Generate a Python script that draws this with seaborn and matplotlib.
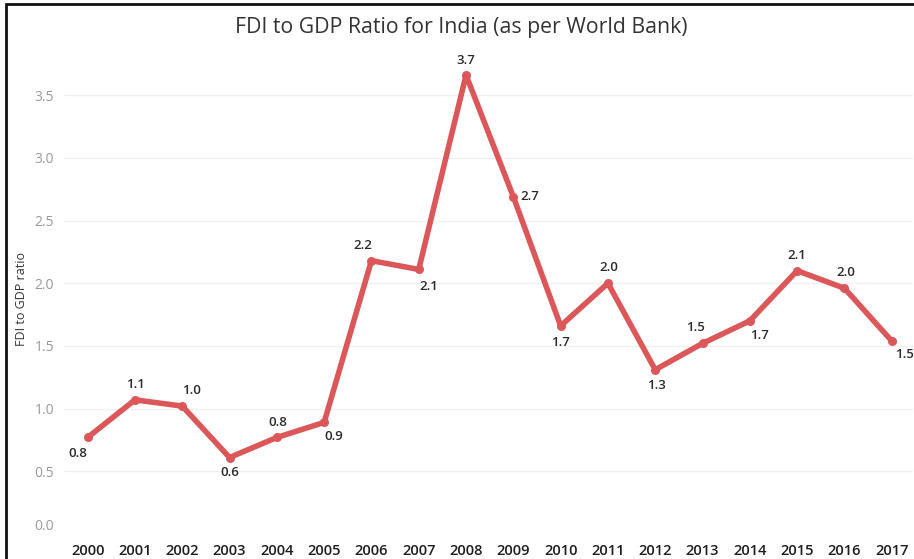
import matplotlib
matplotlib.use("Agg")
import matplotlib.pyplot as plt
import matplotlib.transforms as mtransforms
from matplotlib.patches import Rectangle
import seaborn as sns
import pandas as pd

# FDI net inflows as a share of GDP, India
years = [2000, 2001, 2002, 2003, 2004, 2005, 2006, 2007, 2008,
         2009, 2010, 2011, 2012, 2013, 2014, 2015, 2016, 2017]
fdi_ratio = [0.77, 1.07, 1.02, 0.61, 0.77, 0.89, 2.18, 2.11, 3.66,
             2.69, 1.66, 2.00, 1.31, 1.52, 1.70, 2.10, 1.96, 1.54]
y_ticks = [0.0, 0.5, 1.0, 1.5, 2.0, 2.5, 3.0, 3.5]

# label placement around each point (pixels; positive dy is upward)
label_offsets = [(-10, -16), (1, 15), (9, 16), (0, -15), (1, 15), (10, -14),
                 (-9, 15), (10, -17), (0, 15), (16, 0), (0, -17), (1, 16),
                 (1, -16), (-7, 16), (10, -15), (0, 15), (1, 16), (13, -14)]

df = pd.DataFrame({"Year": years, "FDI to GDP ratio": fdi_ratio})

sns.set_theme(style="white")
plt.rcParams["font.family"] = ["Open Sans", "DejaVu Sans"]

W, H = 914, 559
fig = plt.figure(figsize=(W / 100, H / 100), dpi=100)
fig.patch.set_facecolor("white")

ax_left, ax_right = 64, 913
ax_bottom, ax_top = 534, 45
ax = fig.add_axes([ax_left / W, (H - ax_bottom) / H,
                   (ax_right - ax_left) / W, (ax_bottom - ax_top) / H])

line_color = "#dc5759"
sns.lineplot(data=df, x="Year", y="FDI to GDP ratio", ax=ax,
             color=line_color, linewidth=4.0, marker="o", markersize=6.5,
             markeredgewidth=0, solid_capstyle="round", solid_joinstyle="round")

for yr, val, (dx, dy) in zip(years, fdi_ratio, label_offsets):
    ax.annotate(f"{val:.1f}", (yr, val), xytext=(dx, dy),
                textcoords="offset pixels", ha="center", va="center",
                fontsize=9.5, fontweight="semibold", color="#2b2b2b")

ax.set_xlim(1999.5, 2017.45)
ax.set_ylim(0, 3.9)
ax.set_xticks(years)
ax.set_xticklabels([str(y) for y in years], fontsize=10.5,
                   fontweight="semibold", color="#1e1e1e")
ax.set_yticks(y_ticks)
ax.set_yticklabels([f"{t:.1f}" for t in y_ticks], fontsize=10, color="#9a9a9a")
ax.tick_params(axis="both", length=0)
ax.tick_params(axis="x", pad=7)
ax.tick_params(axis="y", pad=7)

# keep the bottom tick label inside the pane
lbl0 = ax.get_yticklabels()[0]
lbl0.set_transform(lbl0.get_transform() +
                   mtransforms.ScaledTranslation(0, 9 / 100, fig.dpi_scale_trans))

ax.grid(axis="y", color="#f0f0f0", linewidth=1)
ax.grid(axis="x", visible=False)
for side in ax.spines.values():
    side.set_visible(False)

ax.set_xlabel("")
ax.set_ylabel("")
fig.text(22 / W, 1 - 299 / H, "FDI to GDP ratio", rotation=90,
         ha="center", va="center", fontsize=9, color="#333333")

fig.text(461 / W, 1 - 27 / H, "FDI to GDP Ratio for India (as per World Bank)",
         ha="center", va="center", fontsize=15.3, color="#333333")

# dark frame along the top and left edges
fig.add_artist(Rectangle((6 / W, -0.1), 1.2, (H - 4) / H + 0.1,
                         transform=fig.transFigure, fill=False,
                         edgecolor="#111111", linewidth=2))

fig.savefig("out.png", dpi=100)
